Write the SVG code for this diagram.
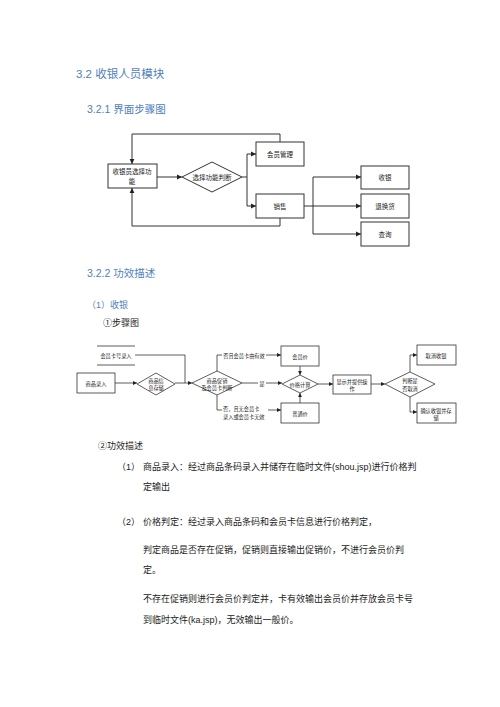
<svg xmlns="http://www.w3.org/2000/svg" width="500" height="707" viewBox="0 0 500 707">
<defs>
<marker id="a1" markerUnits="userSpaceOnUse" markerWidth="6" markerHeight="6" refX="5" refY="3" orient="auto"><path d="M0,0.6 L5,3 L0,5.4 Z" fill="#222"/></marker>
<marker id="a2" markerUnits="userSpaceOnUse" markerWidth="5" markerHeight="5" refX="4" refY="2.5" orient="auto"><path d="M0,0.6 L4,2.5 L0,4.4 Z" fill="#222"/></marker>
</defs>
<style>
.h{font-family:"Liberation Sans","Noto Sans CJK SC",sans-serif;fill:#4F81BD}
.b{font-family:"Liberation Sans","Noto Sans CJK SC",sans-serif;fill:#222;font-size:9px}
.n{fill:#fff;stroke:#333;stroke-width:1}
.n2{fill:#fff;stroke:#333;stroke-width:0.8}
.t1{font-family:"Noto Sans CJK SC",sans-serif;font-size:6.5px;fill:#222;text-anchor:middle;dominant-baseline:central}
.t2{font-family:"Noto Sans CJK SC",sans-serif;font-size:5.2px;fill:#222;text-anchor:middle;dominant-baseline:central}
.c1{fill:none;stroke:#333;stroke-width:1}
.c2{fill:none;stroke:#333;stroke-width:0.8}
</style>
<rect width="500" height="707" fill="#fff"/>
<text class="h" x="76" y="78" font-size="11.5">3.2 收银人员模块</text>
<text class="h" x="87" y="113" font-size="10.5">3.2.1 界面步骤图</text>
<text class="h" x="87" y="277" font-size="10.5">3.2.2 功效描述</text>
<text class="h" x="87" y="308" font-size="9">（1）收银</text>
<text class="b" x="103" y="326">①步骤图</text>

<g id="connectors1">
<path class="c1" d="M157,177 H182" marker-end="url(#a1)"/>
<path class="c1" d="M242,177 H247 M247,154 V206"/>
<path class="c1" d="M247,154 H256" marker-end="url(#a1)"/>
<path class="c1" d="M247,206 H256" marker-end="url(#a1)"/>
<path class="c1" d="M280,142 V134 H132 V164" marker-end="url(#a1)"/>
<path class="c1" d="M280,218 V226 H132 V188" marker-end="url(#a1)"/>
<path class="c1" d="M304,206 H313 M313,177 V234"/>
<path class="c1" d="M313,177 H361" marker-end="url(#a1)"/>
<path class="c1" d="M313,206 H361" marker-end="url(#a1)"/>
<path class="c1" d="M313,234 H361" marker-end="url(#a1)"/>
</g>
<g id="n_select"><rect class="n" x="108" y="164" width="49" height="24"/><text class="t1" x="132" y="171">收银员选择功</text><text class="t1" x="132" y="180.5">能</text></g>
<g id="n_judge"><polygon class="n" points="182,177 212,162 242,177 212,192"/><text class="t1" x="212" y="177">选择功能判断</text></g>
<g id="n_member"><rect class="n" x="256" y="142" width="48" height="24"/><text class="t1" x="280" y="154">会员管理</text></g>
<g id="n_sale"><rect class="n" x="256" y="194" width="48" height="24"/><text class="t1" x="280" y="206">销售</text></g>
<g id="n_cash"><rect class="n" x="361" y="166" width="48" height="23"/><text class="t1" x="385" y="177">收银</text></g>
<g id="n_return"><rect class="n" x="361" y="194" width="48" height="24"/><text class="t1" x="385" y="206">退换货</text></g>
<g id="n_query"><rect class="n" x="361" y="222" width="48" height="24"/><text class="t1" x="385" y="234">查询</text></g>

<g id="connectors2">
<path class="c2" d="M97,346 H135 M97,365 H135"/>
<path class="c2" d="M135,355 H185 V383"/>
<path class="c2" d="M115,383 H137" marker-end="url(#a2)"/>
<path class="c2" d="M175,383 H192" marker-end="url(#a2)"/>
<path class="c2" d="M217,372 V355 H281" marker-end="url(#a2)"/>
<path class="c2" d="M217,395 V410 H281" marker-end="url(#a2)"/>
<path class="c2" d="M242,383 H282" marker-end="url(#a2)"/>
<path class="c2" d="M300,366 V375" marker-end="url(#a2)"/>
<path class="c2" d="M300,403 V393" marker-end="url(#a2)"/>
<path class="c2" d="M318,384 H333" marker-end="url(#a2)"/>
<path class="c2" d="M371,384 H385" marker-end="url(#a2)"/>
<path class="c2" d="M410,372 V355 H417" marker-end="url(#a2)"/>
<path class="c2" d="M410,397 V412 H417" marker-end="url(#a2)"/>
<rect x="222" y="351" width="44" height="8" fill="#fff"/>
<text class="t2" x="244" y="355">否且会员卡由有效</text>
<rect x="258" y="380" width="8" height="7" fill="#fff"/>
<text class="t2" x="262" y="383">是</text>
<rect x="222" y="405" width="46" height="15" fill="#fff"/>
<text class="t2" x="223" y="408.5" style="text-anchor:start">否，且无会员卡</text>
<text class="t2" x="223" y="416" style="text-anchor:start">录入或会员卡无效</text>
</g>
<g id="n_card"><text class="t2" x="116" y="355">会员卡号录入</text></g>
<g id="n_input"><rect class="n2" x="77" y="373" width="38" height="20"/><text class="t2" x="96" y="383">商品录入</text></g>
<g id="n_store"><polygon class="n2" points="137,384 156,373 175,384 156,395"/><text class="t2" x="156" y="380">商品信</text><text class="t2" x="156" y="387">息存储</text></g>
<g id="n_promo"><polygon class="n2" points="192,383 217,371 242,383 217,395"/><text class="t2" x="217" y="380">商品促销</text><text class="t2" x="217" y="387">及会员卡判断</text></g>
<g id="n_mprice"><rect class="n2" x="281" y="346" width="38" height="20"/><text class="t2" x="300" y="356">会员价</text></g>
<g id="n_calc"><polygon class="n2" points="282,384 300,375 318,384 300,393"/><text class="t2" x="300" y="384">价格计算</text></g>
<g id="n_nprice"><rect class="n2" x="281" y="403" width="38" height="20"/><text class="t2" x="300" y="413">普通价</text></g>
<g id="n_show"><rect class="n2" x="333" y="375" width="38" height="19"/><text class="t2" x="352" y="381">显示并提供操</text><text class="t2" x="352" y="388">作</text></g>
<g id="n_cancelq"><polygon class="n2" points="385,384 410,372 435,384 410,397"/><text class="t2" x="410" y="380">判断是</text><text class="t2" x="410" y="388">否取消</text></g>
<g id="n_cancel"><rect class="n2" x="417" y="345" width="39" height="20"/><text class="t2" x="436" y="355">取消收银</text></g>
<g id="n_confirm"><rect class="n2" x="417" y="403" width="39" height="20"/><text class="t2" x="436" y="410">确认收银并存</text><text class="t2" x="436" y="417">储</text></g>

<text class="b" x="98" y="449">②功效描述</text>
<text class="b" x="117" y="470">（1）</text>
<text class="b" x="143" y="470">商品录入：经过商品条码录入并储存在临时文件(shou.jsp)进行价格判</text>
<text class="b" x="143" y="490">定输出</text>
<text class="b" x="117" y="525">（2）</text>
<text class="b" x="143" y="525">价格判定：经过录入商品条码和会员卡信息进行价格判定，</text>
<text class="b" x="143" y="553">判定商品是否存在促销，促销则直接输出促销价，不进行会员价判</text>
<text class="b" x="143" y="573">定。</text>
<text class="b" x="143" y="602">不存在促销则进行会员价判定并，卡有效输出会员价并存放会员卡号</text>
<text class="b" x="143" y="623">到临时文件(ka.jsp)，无效输出一般价。</text>
</svg>
